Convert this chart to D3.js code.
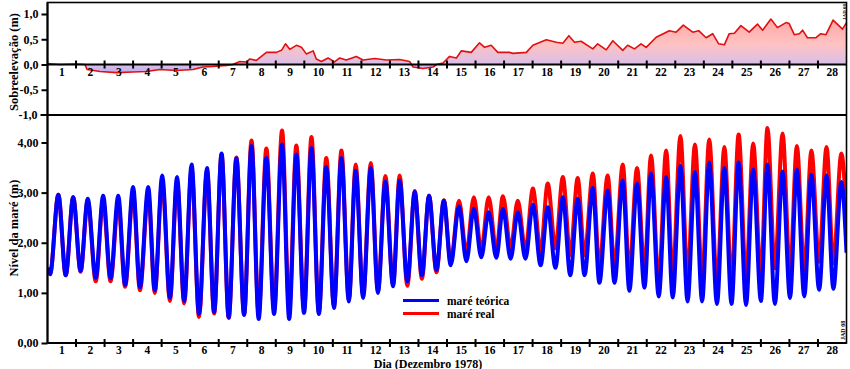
<!doctype html>
<html lang="pt">
<head>
  <meta charset="utf-8">
  <title>Sobreelevação e nível da maré - Dezembro 1978</title>
  <script src="https://cdn.jsdelivr.net/npm/d3@7"></script>
  <style>
    body { margin: 0; background: #fff; }
    svg text { font-family: "Liberation Serif", "Times New Roman", serif; font-weight: bold; fill: #000; }
  </style>
</head>
<body>
  <svg id="chart" width="850" height="369"></svg>
<script>
  //
  // Data (days counted from 1 Dec 00h)
  //

  var dayLabels = ['1', '2', '3', '4', '5', '6', '7', '8', '9', '10', '11', '12', '13', '14',
    '15', '16', '17', '18', '19', '20', '21', '22', '23', '24', '25', '26', '27', '28']

  var surgeTicks = [1, 0.5, 0, -0.5, -1]
  var tideTicks = [0, 1, 2, 3, 4]

  // sobreelevação (m)
  var surgeDay = [0, 0.44, 0.96, 1.31, 1.39, 1.84, 2.42, 2.99, 3.47, 3.94, 4.52, 5.10, 5.45, 5.80,
    6.27, 6.49, 6.74, 6.97, 7.09, 7.32, 7.67, 8.02, 8.20, 8.34, 8.49, 8.72, 8.90, 9.07, 9.31,
    9.42, 9.60, 9.83, 10.06, 10.24, 10.47, 10.82, 11.06, 11.47, 11.87, 12.34, 12.69, 12.81,
    13.16, 13.51, 13.63, 13.86, 14.09, 14.33, 14.50, 14.85, 15.14, 15.32, 15.55, 15.78, 16.19,
    16.31, 16.78, 17.01, 17.48, 17.83, 18.06, 18.27, 18.47, 18.70, 19.11, 19.28, 19.58, 19.81,
    20.16, 20.33, 20.57, 20.80, 20.98, 21.33, 21.79, 22.03, 22.28, 22.61, 22.82, 23.08, 23.31,
    23.52, 23.72, 23.89, 24.07, 24.30, 24.59, 24.88, 25.06, 25.35, 25.58, 25.88, 25.99, 26.17,
    26.35, 26.46, 26.63, 26.93, 27.10, 27.28, 27.53, 27.86, 28]
  var surgeValue = [0.02, 0.0, 0.01, 0.0, -0.10, -0.14, -0.16, -0.15, -0.14, -0.10, -0.12, -0.10,
    -0.05, -0.04, -0.02, 0.0, 0.06, 0.05, 0.11, 0.08, 0.24, 0.24, 0.28, 0.41, 0.30, 0.38, 0.34,
    0.21, 0.27, 0.11, 0.06, 0.13, 0.05, 0.13, 0.09, 0.16, 0.09, 0.12, 0.09, 0.10, 0.06, -0.05,
    -0.08, -0.05, 0.0, 0.03, 0.16, 0.13, 0.27, 0.24, 0.43, 0.34, 0.38, 0.24, 0.24, 0.22, 0.24,
    0.38, 0.49, 0.44, 0.42, 0.57, 0.44, 0.46, 0.31, 0.41, 0.29, 0.47, 0.28, 0.38, 0.31, 0.41,
    0.34, 0.54, 0.67, 0.64, 0.78, 0.64, 0.67, 0.53, 0.61, 0.41, 0.39, 0.61, 0.62, 0.77, 0.64,
    0.80, 0.68, 0.90, 0.73, 0.83, 0.81, 0.59, 0.61, 0.68, 0.53, 0.53, 0.61, 0.59, 0.88, 0.70, 0.83]

  // high / low water times and heights (m)
  var tideDay = [0, 0.09, 0.38, 0.64, 0.90, 1.16, 1.41, 1.69, 1.95, 2.21, 2.48, 2.72, 3.00, 3.24,
    3.53, 3.76, 4.02, 4.29, 4.54, 4.79, 5.05, 5.31, 5.59, 5.84, 6.10, 6.35, 6.62, 6.89, 7.15,
    7.40, 7.67, 7.94, 8.22, 8.47, 8.72, 8.99, 9.25, 9.51, 9.77, 10.04, 10.30, 10.56, 10.80,
    11.06, 11.33, 11.58, 11.84, 12.11, 12.34, 12.61, 12.87, 13.12, 13.37, 13.63, 13.89, 14.13,
    14.42, 14.68, 14.94, 15.20, 15.46, 15.73, 15.96, 16.23, 16.48, 16.75, 17.01, 17.28, 17.53,
    17.80, 18.06, 18.32, 18.58, 18.82, 19.11, 19.34, 19.63, 19.87, 20.16, 20.39, 20.66, 20.92,
    21.15, 21.42, 21.68, 21.91, 22.18, 22.43, 22.69, 22.94, 23.19, 23.46, 23.72, 23.97, 24.22,
    24.48, 24.73, 25.00, 25.23, 25.49, 25.76, 26.02, 26.26, 26.52, 26.77, 27.04, 27.30, 27.54,
    27.82, 28]
  var tideTeorica = [1.50, 1.37, 2.96, 1.35, 2.91, 1.44, 2.88, 1.30, 2.94, 1.29, 2.94, 1.16, 3.11,
    1.11, 3.11, 1.05, 3.34, 0.90, 3.31, 0.84, 3.56, 0.58, 3.49, 0.62, 3.78, 0.51, 3.68, 0.56,
    3.93, 0.48, 3.69, 0.58, 3.96, 0.48, 3.76, 0.60, 3.89, 0.58, 3.51, 0.70, 3.69, 0.83, 3.44,
    0.90, 3.49, 1.00, 3.22, 1.13, 3.24, 1.23, 3.01, 1.35, 2.94, 1.46, 2.84, 1.55, 2.73, 1.63,
    2.68, 1.71, 2.61, 1.70, 2.68, 1.68, 2.61, 1.68, 2.76, 1.55, 2.71, 1.50, 2.91, 1.35, 2.88,
    1.35, 3.09, 1.20, 3.04, 1.20, 3.24, 1.04, 3.18, 1.10, 3.38, 0.93, 3.31, 0.91, 3.53, 0.83,
    3.41, 0.83, 3.60, 0.78, 3.49, 0.78, 3.60, 0.76, 3.46, 0.84, 3.56, 0.78, 3.42, 0.90, 3.46,
    0.93, 3.36, 1.06, 3.34, 1.08, 3.21, 1.80]
  var tideReal = [1.50, 1.37, 2.96, 1.35, 2.91, 1.42, 2.84, 1.23, 2.83, 1.23, 2.80, 1.12, 2.98,
    1.05, 2.98, 1.00, 3.22, 0.84, 3.20, 0.79, 3.46, 0.52, 3.42, 0.59, 3.76, 0.50, 3.70, 0.58,
    4.04, 0.58, 3.88, 0.66, 4.24, 0.69, 3.94, 0.68, 4.11, 0.62, 3.69, 0.75, 3.84, 0.87, 3.56,
    0.95, 3.59, 1.05, 3.33, 1.17, 3.34, 1.14, 3.03, 1.28, 2.94, 1.41, 2.85, 1.62, 2.84, 1.79,
    2.91, 1.85, 2.91, 1.85, 2.93, 1.89, 2.84, 1.85, 3.08, 1.82, 3.18, 1.89, 3.31, 1.75, 3.29,
    1.75, 3.38, 1.52, 3.34, 1.52, 3.56, 1.42, 3.49, 1.45, 3.74, 1.22, 3.84, 1.35, 4.13, 1.35,
    3.96, 1.29, 4.06, 1.19, 3.91, 1.22, 4.16, 1.29, 3.98, 1.32, 4.29, 1.49, 4.18, 1.42, 3.93,
    1.45, 3.84, 1.62, 3.91, 1.59, 3.78, 2.50]

  //
  // Layout
  //

  var left = 47.5, right = 846.5
  var topY = 2.5, midY = 115, bottomY = 343

  var svg = d3.select('#chart')
  var ptLocale = d3.formatLocale({ decimal: ',', thousands: '.', grouping: [3], currency: ['', ''], minus: '-' })

  var x = d3.scaleLinear().domain([0, 28]).range([left, right])
  var yTop = d3.scaleLinear().domain([-1, 1]).range([midY, 14])
  var yBot = d3.scaleLinear().domain([0, 4]).range([bottomY, 142.5])

  var defs = svg.append('defs')
  defs.append('clipPath').attr('id', 'clipTop')
    .append('rect').attr('x', left).attr('y', topY).attr('width', right - left).attr('height', midY - topY)
  defs.append('clipPath').attr('id', 'clipBot')
    .append('rect').attr('x', left).attr('y', midY).attr('width', right - left).attr('height', bottomY - midY)

  var grad = defs.append('linearGradient').attr('id', 'surgeFill')
    .attr('gradientUnits', 'userSpaceOnUse')
    .attr('x1', 0).attr('x2', 0).attr('y1', yTop(0.95)).attr('y2', yTop(-0.25))
  grad.append('stop').attr('offset', '0%').attr('stop-color', '#ffa4a4')
  grad.append('stop').attr('offset', '45%').attr('stop-color', '#ffc2c2')
  grad.append('stop').attr('offset', '80%').attr('stop-color', '#d8bfea')
  grad.append('stop').attr('offset', '100%').attr('stop-color', '#b4a2f2')

  //
  // Top panel: sobreelevação
  //

  var surge = surgeDay.map(function (d, i) { return { d: d, v: surgeValue[i] } })

  var gTop = svg.append('g').attr('clip-path', 'url(#clipTop)')
  gTop.append('path')
    .datum(surge)
    .attr('fill', 'url(#surgeFill)')
    .attr('d', d3.area().x(function (p) { return x(p.d) }).y0(yTop(0)).y1(function (p) { return yTop(p.v) }))
  gTop.append('path')
    .datum(surge)
    .attr('fill', 'none')
    .attr('stroke', '#e01010')
    .attr('stroke-width', 1.6)
    .attr('stroke-linejoin', 'round')
    .attr('d', d3.line().x(function (p) { return x(p.d) }).y(function (p) { return yTop(p.v) }))

  //
  // Bottom panel: nível da maré
  //

  var tideLine = d3.line()
    .x(function (p) { return x(p.d) })
    .y(function (p) { return yBot(p.v) })
    .curve(d3.curveMonotoneX)

  var gBot = svg.append('g').attr('clip-path', 'url(#clipBot)')
  gBot.append('path')
    .datum(tideDay.map(function (d, i) { return { d: d, v: tideReal[i] } }))
    .attr('fill', 'none').attr('stroke', '#ff0000').attr('stroke-width', 4)
    .attr('d', tideLine)
  gBot.append('path')
    .datum(tideDay.map(function (d, i) { return { d: d, v: tideTeorica[i] } }))
    .attr('fill', 'none').attr('stroke', '#0000ff').attr('stroke-width', 4)
    .attr('d', tideLine)

  //
  // Frames and axes
  //

  svg.append('rect')
    .attr('x', left).attr('y', topY).attr('width', right - left).attr('height', bottomY - topY)
    .attr('fill', 'none').attr('stroke', '#000').attr('stroke-width', 1.6)
  svg.append('line').attr('x1', left - 7).attr('x2', right).attr('y1', midY).attr('y2', midY)
    .attr('stroke', '#000').attr('stroke-width', 2)
  svg.append('line').attr('x1', left).attr('x2', left).attr('y1', topY).attr('y2', bottomY)
    .attr('stroke', '#000').attr('stroke-width', 2)

  function yAxis(scale, ticks, fmt) {
    var g = svg.append('g')
      .attr('transform', 'translate(' + left + ',0)')
      .call(d3.axisLeft(scale).tickValues(ticks).tickSize(6).tickPadding(3).tickFormat(fmt))
    g.select('.domain').remove()
    g.selectAll('line').attr('stroke', '#000').attr('stroke-width', 2)
    g.selectAll('text').attr('font-size', 12).attr('font-family', null)
    return g
  }
  yAxis(yTop, surgeTicks.slice(0, 4), ptLocale.format('.1f'))
  yAxis(yBot, tideTicks, ptLocale.format('.2f'))
  svg.append('text').attr('x', 37.5).attr('y', midY + 4).attr('text-anchor', 'end')
    .attr('font-size', 12).text(ptLocale.format('.1f')(surgeTicks[4]))

  function dayAxis(y0, labelY) {
    var g = svg.append('g')
    g.append('line').attr('x1', left).attr('x2', right).attr('y1', y0).attr('y2', y0)
      .attr('stroke', '#000').attr('stroke-width', 2)
    g.selectAll('line.tick')
      .data(dayLabels.slice(1))
      .enter().append('line')
      .attr('class', 'tick')
      .attr('x1', function (d, i) { return x(i + 1) })
      .attr('x2', function (d, i) { return x(i + 1) })
      .attr('y1', y0 - 4).attr('y2', y0 + 4)
      .attr('stroke', '#000').attr('stroke-width', 2)
    g.selectAll('text')
      .data(dayLabels)
      .enter().append('text')
      .attr('x', function (d, i) { return x(i + 0.5) })
      .attr('y', labelY)
      .attr('text-anchor', 'middle')
      .attr('font-size', 11.5)
      .text(function (d) { return d })
  }
  dayAxis(yTop(0), 75.5)
  dayAxis(bottomY, 354)

  //
  // Titles, legend, tags
  //

  svg.append('text')
    .attr('transform', 'translate(18,' + 62 + ') rotate(-90)')
    .attr('text-anchor', 'middle').attr('font-size', 12.5)
    .text('Sobreelevação (m)')
  svg.append('text')
    .attr('transform', 'translate(18,' + 228 + ') rotate(-90)')
    .attr('text-anchor', 'middle').attr('font-size', 12.5)
    .text('Nível da maré (m)')
  svg.append('text')
    .attr('x', 428).attr('y', 367.5)
    .attr('text-anchor', 'middle').attr('font-size', 12)
    .text('Dia (Dezembro 1978)')

  var legend = [
    { name: 'maré teórica', color: '#0000ff' },
    { name: 'maré real', color: '#ff0000' }
  ]
  var lg = svg.append('g').attr('transform', 'translate(403,300.5)')
  legend.forEach(function (l, i) {
    lg.append('line').attr('x1', 0).attr('x2', 36).attr('y1', i * 13).attr('y2', i * 13)
      .attr('stroke', l.color).attr('stroke-width', 3)
    lg.append('text').attr('x', 44).attr('y', i * 13 + 4).attr('font-size', 11.5).text(l.name)
  })

  svg.append('text')
    .attr('transform', 'translate(845.5,4) rotate(-90)')
    .attr('text-anchor', 'end').attr('font-size', 5).text('JAD 08')
  svg.append('text')
    .attr('transform', 'translate(844.5,340) rotate(-90)')
    .attr('text-anchor', 'start').attr('font-size', 6).text('JAD 08')
</script>
</body>
</html>
